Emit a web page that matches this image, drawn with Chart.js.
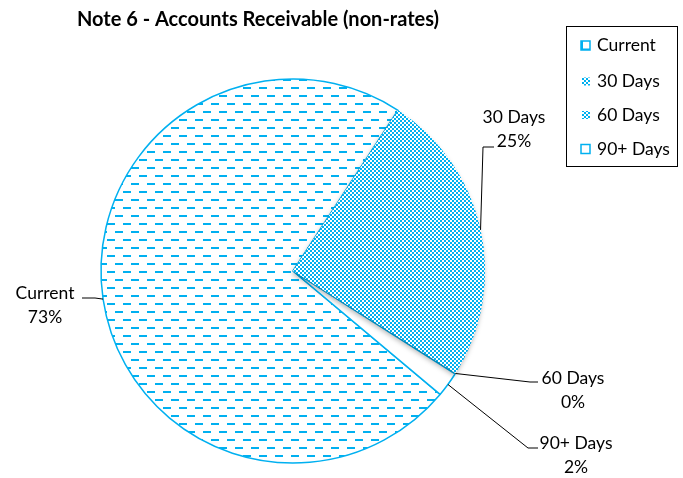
<!DOCTYPE html>
<html>
<head>
<meta charset="utf-8">
<script src="https://cdn.jsdelivr.net/npm/chart.js@4"></script>
<style>
html,body{margin:0;padding:0;background:#fff;}
canvas{display:block;}
</style>
</head>
<body>
<canvas id="c" width="683" height="478"></canvas>
<script>
// ---- data ----
const chartTitle = 'Note 6 - Accounts Receivable (non-rates)';
const categories = ['Current', '30 Days', '60 Days', '90+ Days'];
const values = [73.1, 24.7, 0.1, 2.1];

// ---- style / layout ----
const BLUE = '#00B0F0';
const FONT = 'Lato, "Open Sans", sans-serif';

function makeDashPattern() {
  const t = document.createElement('canvas');
  t.width = 16; t.height = 16;
  const g = t.getContext('2d');
  g.fillStyle = '#fff'; g.fillRect(0, 0, 16, 16);
  g.fillStyle = BLUE;
  const rects = [[3, 7, 8, 2], [11, 15, 8, 2]];
  rects.forEach(([x, y, w, h]) => {
    [[0,0],[-16,0],[0,-16],[-16,-16]].forEach(([dx, dy]) => g.fillRect(x + dx, y + dy, w, h));
  });
  return g.createPattern(t, 'repeat');
}
function makeChecker() {
  const t = document.createElement('canvas');
  t.width = 4; t.height = 4;
  const g = t.getContext('2d');
  g.fillStyle = '#fff'; g.fillRect(0, 0, 4, 4);
  g.fillStyle = BLUE;
  g.fillRect(0, 0, 2, 2); g.fillRect(2, 2, 2, 2);
  return g.createPattern(t, 'repeat');
}
const dashPat = makeDashPattern();
const checker = makeChecker();

// leader-line layout per category: elbow point, end point, text centre
const labelLayout = [
  { elbow: [95, 298], end: [82, 298], text: [45, 293] },
  { elbow: [483, 147], end: [494, 147], text: [514, 117] },
  { elbow: [530, 382], end: [538, 382], text: [573, 378] },
  { elbow: [528, 448], end: [538, 448], text: [576, 443] }
];

const overlay = {
  id: 'overlay',
  afterDatasetsDraw(chart) {
    const ctx = chart.ctx;
    const meta = chart.getDatasetMeta(0);
    // soft shadow under the 30 Days slice
    const arc = meta.data[1];
    ctx.save();
    ctx.shadowColor = 'rgba(0,0,0,0.28)';
    ctx.shadowBlur = 5;
    ctx.shadowOffsetX = -1;
    ctx.shadowOffsetY = 3;
    arc.draw(ctx);
    ctx.restore();
  },
  afterDraw(chart) {
    const ctx = chart.ctx;
    const meta = chart.getDatasetMeta(0);
    const sum = values.reduce((a, b) => a + b, 0);
    ctx.save();
    // title
    ctx.fillStyle = '#000';
    ctx.font = 'bold 20px ' + FONT;
    ctx.textAlign = 'center';
    ctx.textBaseline = 'alphabetic';
    ctx.fillText(chartTitle, 258, 26);

    // data labels with leader lines
    meta.data.forEach((el, i) => {
      const p = el.getProps(['x', 'y', 'startAngle', 'endAngle', 'outerRadius'], true);
      const a = (p.startAngle + p.endAngle) / 2;
      const ax = p.x + Math.cos(a) * p.outerRadius;
      const ay = p.y + Math.sin(a) * p.outerRadius;
      const L = labelLayout[i];
      ctx.strokeStyle = '#000';
      ctx.lineWidth = 1;
      ctx.beginPath();
      ctx.moveTo(ax, ay);
      ctx.lineTo(L.elbow[0], L.elbow[1]);
      ctx.lineTo(L.end[0], L.end[1]);
      ctx.stroke();
      ctx.fillStyle = '#000';
      ctx.font = '17.5px ' + FONT;
      ctx.textAlign = 'center';
      ctx.textBaseline = 'middle';
      ctx.fillText(categories[i], L.text[0], L.text[1]);
      ctx.fillText(Math.round(values[i] / sum * 100) + '%', L.text[0], L.text[1] + 24);
    });

    // legend
    ctx.strokeStyle = '#000';
    ctx.lineWidth = 1;
    ctx.strokeRect(566.5, 26.5, 111, 140);
    const rows = [45.5, 81.5, 115, 149];
    categories.forEach((c, i) => {
      const y = rows[i];
      if (i === 0) {
        ctx.fillStyle = '#fff';
        ctx.fillRect(581, y - 4.5, 9, 9);
        ctx.strokeStyle = BLUE; ctx.lineWidth = 1.5;
        ctx.strokeRect(581, y - 4.5, 9, 9);
        ctx.fillStyle = BLUE;
        ctx.fillRect(581, y - 4.5, 2, 9);
        ctx.fillRect(581, y + 3, 9, 1.5);
      } else if (i === 3) {
        ctx.fillStyle = '#fff';
        ctx.fillRect(581, y - 4.5, 9, 9);
        ctx.strokeStyle = BLUE; ctx.lineWidth = 1.5;
        ctx.strokeRect(581, y - 4.5, 9, 9);
      } else {
        ctx.fillStyle = checker;
        ctx.fillRect(582, y - 4, 8, 8);
      }
      ctx.fillStyle = '#000';
      ctx.font = '17.5px ' + FONT;
      ctx.textAlign = 'left';
      ctx.textBaseline = 'middle';
      ctx.fillText(c, 597, y);
    });
    ctx.restore();
  }
};

new Chart(document.getElementById('c'), {
  type: 'pie',
  data: {
    labels: categories,
    datasets: [{
      data: values,
      backgroundColor: [dashPat, checker, checker, '#ffffff'],
      borderColor: [BLUE, 'rgba(0,0,0,0)', 'rgba(0,0,0,0)', BLUE],
      borderWidth: [1.5, 0, 0, 1.5]
    }]
  },
  options: {
    responsive: false,
    animation: false,
    rotation: 130,
    radius: 192,
    layout: { padding: { left: 101, right: 198, top: 79, bottom: 15 } },
    plugins: {
      legend: { display: false },
      tooltip: { enabled: false },
      title: { display: false }
    }
  },
  plugins: [overlay]
});
</script>
</body>
</html>
